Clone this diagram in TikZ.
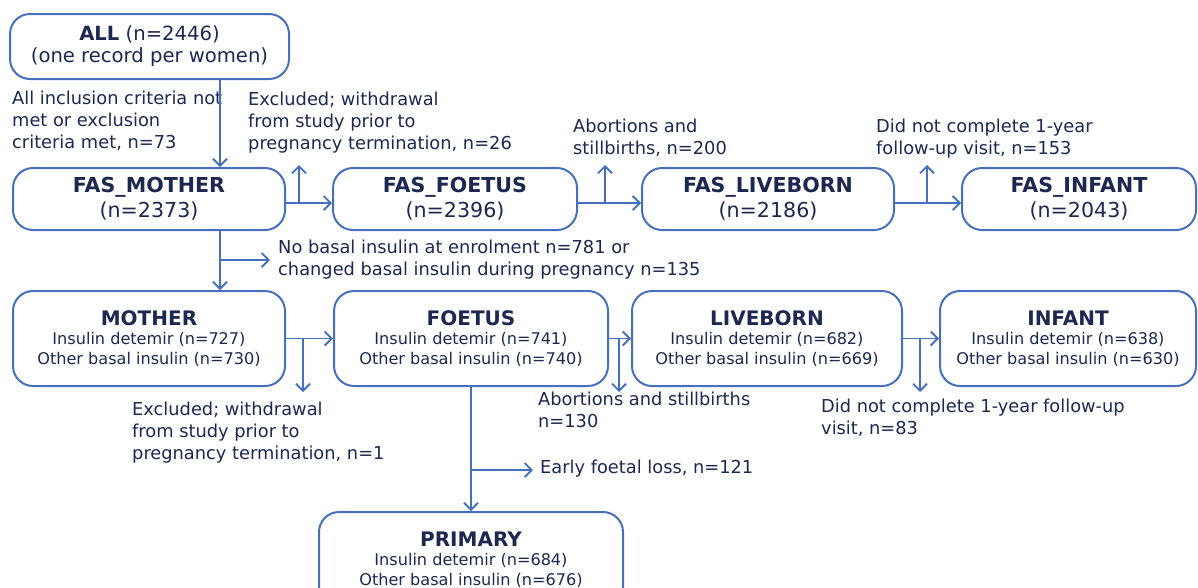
\documentclass[tikz,border=0pt]{standalone}
\usepackage{fontspec}
\setmainfont{DejaVu Sans}
\usetikzlibrary{arrows.meta}

\definecolor{flowline}{RGB}{70,112,190}
\definecolor{flowtext}{RGB}{28,40,80}

\tikzset{
  box/.style={draw=flowline, line width=2pt, rounded corners=20pt, align=center, text=flowtext, inner sep=0pt},
  fasbox/.style={box, minimum height=62pt, font=\fontsize{20.6}{25}\selectfont},
  grpbox/.style={box, minimum height=95pt, font=\fontsize{16.1}{19.5}\selectfont},
  note/.style={align=left, anchor=north west, inner sep=0pt, text=flowtext, font=\fontsize{17.8}{22}\selectfont},
  arr/.style={draw=flowline, line width=1.8pt, -{Straight Barb[length=7pt,width=14pt]}},
}
\newcommand{\grptitle}[1]{{\fontsize{20}{21}\selectfont\bfseries #1}}

\begin{document}
\begin{tikzpicture}[x=1pt, y=-1pt]
\clip (0,0) rectangle (1198,587);

\node[box, minimum width=279pt, minimum height=65pt, font=\fontsize{19.6}{22}\selectfont] (all) at (149.5,46.5) {{\bfseries ALL} (n=2446)\\(one record per women)};

\node[fasbox, minimum width=272pt] (fasm) at (149,199) {\textbf{FAS\_MOTHER}\\(n=2373)};
\node[fasbox, minimum width=244pt] (fasf) at (455,199) {\textbf{FAS\_FOETUS}\\(n=2396)};
\node[fasbox, minimum width=252pt] (fasl) at (768,199) {\textbf{FAS\_LIVEBORN}\\(n=2186)};
\node[fasbox, minimum width=234pt] (fasi) at (1079,199) {\textbf{FAS\_INFANT}\\(n=2043)};

\node[grpbox, minimum width=272pt] (mother) at (149,338.5) {\grptitle{MOTHER}\\Insulin detemir (n=727)\\Other basal insulin (n=730)};
\node[grpbox, minimum width=274pt] (foetus) at (471,338.5) {\grptitle{FOETUS}\\Insulin detemir (n=741)\\Other basal insulin (n=740)};
\node[grpbox, minimum width=270pt] (liveborn) at (767,338.5) {\grptitle{LIVEBORN}\\Insulin detemir (n=682)\\Other basal insulin (n=669)};
\node[grpbox, minimum width=256pt] (infant) at (1068,338.5) {\grptitle{INFANT}\\Insulin detemir (n=638)\\Other basal insulin (n=630)};
\node[grpbox, minimum width=304pt] (primary) at (471,559.5) {\grptitle{PRIMARY}\\Insulin detemir (n=684)\\Other basal insulin (n=676)};

\node[note] (n1) at (12,91) {All inclusion criteria not\\met or exclusion\\criteria met, n=73};
\node[note] (n2) at (248,92) {Excluded; withdrawal\\from study prior to\\pregnancy termination, n=26};
\node[note] (n3) at (573,119) {Abortions and\\stillbirths, n=200};
\node[note] (n4) at (876,119) {Did not complete 1-year\\follow-up visit, n=153};
\node[note] (n5) at (278,240) {No basal insulin at enrolment n=781 or\\changed basal insulin during pregnancy n=135};
\node[note] (n6) at (132,402) {Excluded; withdrawal\\from study prior to\\pregnancy termination, n=1};
\node[note] (n7) at (538,392) {Abortions and stillbirths\\n=130};
\node[note] (n8) at (821,399) {Did not complete 1-year follow-up\\visit, n=83};
\node[note, anchor=west] (n9) at (540,469) {Early foetal loss, n=121};

\coordinate (c1) at (220,0);
\coordinate (r1) at (0,203);
\coordinate (r2) at (0,338.5);
\coordinate (u1) at (299,165);
\coordinate (u2) at (605,165);
\coordinate (u3) at (927,165);
\coordinate (nb) at (270,260);
\coordinate (d1) at (303,392);
\coordinate (d2) at (619,392);
\coordinate (d3) at (920,392);
\coordinate (efl) at (533,470);

\draw[arr] (all.south -| c1) -- (fasm.north -| c1);
\draw[arr] (fasm.east |- r1) -- (fasf.west |- r1);
\draw[arr] (fasf.east |- r1) -- (fasl.west |- r1);
\draw[arr] (fasl.east |- r1) -- (fasi.west |- r1);
\draw[arr] (u1 |- r1) -- (u1);
\draw[arr] (u2 |- r1) -- (u2);
\draw[arr] (u3 |- r1) -- (u3);

\draw[arr] (fasm.south -| c1) -- (mother.north -| c1);
\draw[arr] (c1 |- nb) -- (nb);

\draw[arr] (mother.east |- r2) -- (foetus.west |- r2);
\draw[arr] (foetus.east |- r2) -- (liveborn.west |- r2);
\draw[arr] (liveborn.east |- r2) -- (infant.west |- r2);
\draw[arr] (d1 |- r2) -- (d1);
\draw[arr] (d2 |- r2) -- (d2);
\draw[arr] (d3 |- r2) -- (d3);

\draw[arr] (foetus.south) -- (primary.north);
\draw[arr] (foetus.south |- efl) -- (efl);
\end{tikzpicture}
\end{document}
